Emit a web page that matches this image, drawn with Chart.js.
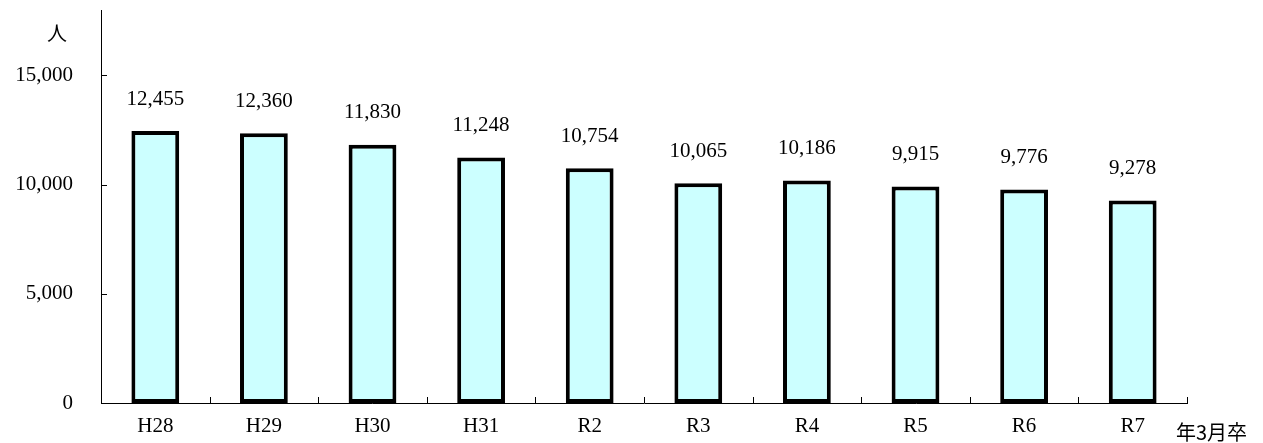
<!DOCTYPE html>
<html>
<head>
<meta charset="utf-8">
<script src="https://cdn.jsdelivr.net/npm/chart.js@4"></script>
<style>
  html, body { margin: 0; padding: 0; background: #fff; }
  #wrap { width: 1263px; height: 443px; position: relative; }
</style>
</head>
<body>
<div id="wrap"><canvas id="chart"></canvas></div>
<script>
// data
const years = ['H28', 'H29', 'H30', 'H31', 'R2', 'R3', 'R4', 'R5', 'R6', 'R7'];
const graduates = [12455, 12360, 11830, 11248, 10754, 10065, 10186, 9915, 9776, 9278];
const yTicks = [0, 5000, 10000, 15000];

const numFont = { family: '"Liberation Serif", serif', size: 21 };
const fmt = v => v.toLocaleString('en-US');

// value labels above bars + small inner tick marks + unit labels
const extras = {
  id: 'extras',
  afterDatasetsDraw(chart) {
    const ctx = chart.ctx;
    const meta = chart.getDatasetMeta(0);
    ctx.save();
    ctx.fillStyle = '#000';
    ctx.font = numFont.size + 'px ' + numFont.family;
    ctx.textAlign = 'center';
    ctx.textBaseline = 'middle';
    meta.data.forEach((bar, i) => {
      ctx.fillText(fmt(graduates[i]), bar.x, bar.y - 32);
    });
    ctx.restore();
  },
  afterDraw(chart) {
    const ctx = chart.ctx;
    const { left, right, bottom } = chart.chartArea;
    const ys = chart.scales.y;
    ctx.save();
    ctx.strokeStyle = '#000';
    ctx.lineWidth = 1;
    ctx.beginPath();
    yTicks.forEach(v => {
      const y = Math.round(ys.getPixelForValue(v)) + 0.5;
      ctx.moveTo(left, y);
      ctx.lineTo(left + 6, y);
    });
    for (let i = 1; i <= years.length; i++) {
      const x = Math.round(left + (right - left) * i / years.length) + 0.5;
      ctx.moveTo(x, bottom);
      ctx.lineTo(x, bottom - 6);
    }
    ctx.stroke();
    ctx.fillStyle = '#000';
    ctx.font = '20px "Noto Sans CJK JP", sans-serif';
    ctx.textAlign = 'center';
    ctx.textBaseline = 'middle';
    ctx.fillText('人', 57, 33);
    ctx.textAlign = 'left';
    ctx.fillText('年3月卒', 1176, 432);
    ctx.restore();
  }
};

new Chart(document.getElementById('chart'), {
  type: 'bar',
  data: {
    labels: years,
    datasets: [{
      data: graduates,
      backgroundColor: '#ccffff',
      borderColor: '#000',
      borderWidth: 4,
      borderSkipped: false,
      barPercentage: 0.44,
      categoryPercentage: 1
    }]
  },
  options: {
    responsive: true,
    maintainAspectRatio: false,
    animation: false,
    layout: { padding: { top: 10, right: 76, left: 0, bottom: 0 } },
    plugins: { legend: { display: false }, tooltip: { enabled: false } },
    scales: {
      x: {
        grid: { display: false, drawTicks: false },
        border: { display: true, color: '#000', width: 1 },
        ticks: { color: '#000', font: numFont, padding: 11, maxRotation: 0 },
        afterFit: s => { s.height = 40; s.paddingLeft = 0; s.paddingRight = 0; }
      },
      y: {
        min: 0,
        max: 18000,
        grid: { display: false, drawTicks: false },
        border: { display: true, color: '#000', width: 1 },
        ticks: { color: '#000', font: numFont, padding: 28, stepSize: 5000, callback: v => fmt(v) },
        afterBuildTicks: s => { s.ticks = yTicks.map(v => ({ value: v })); },
        afterFit: s => { s.width = 101; s.paddingTop = 0; s.paddingBottom = 0; }
      }
    }
  },
  plugins: [extras]
});
</script>
</body>
</html>
